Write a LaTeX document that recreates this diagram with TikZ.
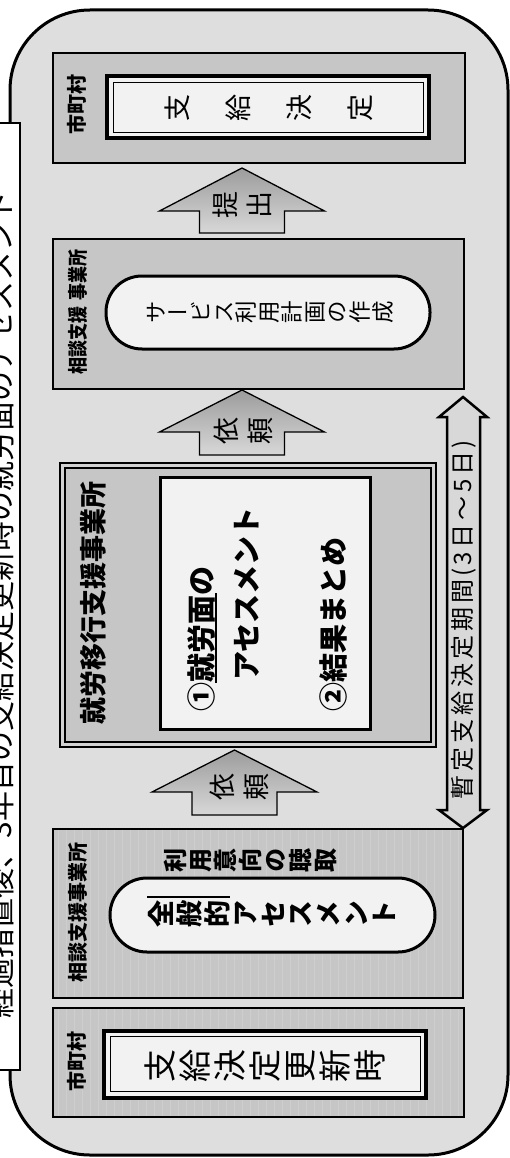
\documentclass[tikz,border=0pt]{standalone}
\usepackage{fontspec}
\setmainfont{Noto Sans CJK JP}
\newfontfamily\jpv[RawFeature=+vert]{Noto Sans CJK JP}
\definecolor{bgout}{HTML}{DEDEDE}
\definecolor{boxgray}{HTML}{C6C6C6}
\definecolor{stripegray}{HTML}{CECECE}
\definecolor{paper}{HTML}{F2F2F2}
\definecolor{periodfill}{HTML}{D8D8D8}
\definecolor{shuroedge}{HTML}{D2D2D2}
\definecolor{arrowdark}{HTML}{9C9C9C}
\definecolor{arrowlight}{HTML}{D8D8D8}
\newcommand\ks{\kern4pt}
\begin{document}
\begin{tikzpicture}[x=1pt,y=-1pt,
  lanebox/.style={draw=black, line width=2pt, fill=boxgray, inner sep=0pt},
  paperbox/.style={draw=black, line width=4pt, fill=paper, inner sep=0pt},
  innerline/.style={draw=black, line width=1pt, inner sep=0pt},
  capsule/.style={draw=black, line width=3pt, fill=paper, rounded corners=36pt, inner sep=0pt},
  lbl/.style={rotate=90, inner sep=0pt, font=\bfseries\fontsize{20}{20}\selectfont},
  tate/.style={rotate=90, align=center, inner sep=0pt},
  yoko/.style={rotate=90, anchor=west, inner sep=0pt, font=\bfseries\fontsize{29}{29}\selectfont},
  blockarrow/.style={draw=black, line width=1.3pt, top color=arrowdark, bottom color=arrowlight},
  marker/.style={line width=1.2pt},
  stripe/.style={draw=stripegray, line width=0.8pt},
]
\useasboundingbox (0,0) rectangle (510,1158);
% outer frame
\node[draw=black, line width=3pt, fill=bgout, rounded corners=80pt, minimum width=498pt, minimum height=1145pt, inner sep=0pt] (frame) at (259,582.5) {};
% title
\node[draw=black, line width=2pt, fill=white, minimum width=40pt, minimum height=947pt, inner sep=0pt] (titlebox) at (0,596.5) {};
\node[rotate=90, inner sep=0pt, font=\fontsize{30}{30}\selectfont] (title) at (0,605) {経過措置後、3年目の支給決定更新時の就労面のアセスメント};
% top: municipality decision
\node[lanebox, minimum width=412pt, minimum height=110pt] (city2) at (259,108) {};
\node[lbl] (city2lbl) at (77,105) {市町村};
\node[paperbox, minimum width=322pt, minimum height=62pt] (kettei) at (268,107.5) {};
\node[innerline, minimum width=310pt, minimum height=50pt] (ketteiin) at (268,107.5) {};
\node[tate, font=\jpv\fontsize{27}{61}\selectfont] (ketteitxt) at (268.5,108) {支\\給\\決\\定};
% arrow submit
\draw[blockarrow] (242,168) -- (324.5,211) -- (284.5,211) -- (284.5,233) -- (199.5,233) -- (199.5,211) -- (159.5,211) -- cycle;
\node[tate, font=\jpv\fontsize{27}{34}\selectfont] (teishutsu) at (242,205) {提\\出};
% plan box
\node[lanebox, minimum width=411pt, minimum height=150pt] (plan) at (258.5,314) {};
\node[lbl] (planlbl) at (78,312) {\scalebox{0.85}[1]{相談支援\hspace{8pt}事業所}};
\node[capsule, minimum width=324pt, minimum height=73pt] (plancap) at (268,312.5) {};
\node[tate, font=\jpv\fontsize{22.5}{22.7}\selectfont] (plantxt) at (270,312) {サ\\ー\\ビ\\ス\\利\\用\\計\\画\\の\\作\\成};
% arrow request 2
\draw[blockarrow] (242,390) -- (324.5,432) -- (284.5,432) -- (284.5,455) -- (199.5,455) -- (199.5,432) -- (159.5,432) -- cycle;
\node[tate, font=\jpv\fontsize{27}{34}\selectfont] (irai2) at (243,431) {依\\頼};
% period arrow
\draw[draw=black, line width=2.5pt, fill=periodfill, line join=miter] (463,397) -- (487,417) -- (480,417) -- (480,810) -- (487,810) -- (463,828) -- (439,810) -- (447,810) -- (447,417) -- (439,417) -- cycle;
\node[rotate=90, inner sep=0pt, font=\fontsize{24}{24}\selectfont] (period) at (463.5,620) {暫\ks 定\ks 支\ks 給\ks 決\ks 定\ks 期\ks 間\kern3pt(\kern3pt 3\ks 日\ks ～\ks 5\ks 日\kern3pt)};
% employment transition support office
\node[draw=black, line width=2pt, fill=shuroedge, minimum width=376pt, minimum height=284pt, inner sep=0pt] (shuro) at (248,605) {};
\node[draw=black, line width=1.2pt, fill=boxgray, minimum width=366pt, minimum height=274pt, inner sep=0pt] (shuroin) at (248,605) {};
\node[lbl, font=\bfseries\fontsize{27}{27}\selectfont] (shurolbl) at (93,603) {就労移行支援事業所};
\node[draw=black, line width=3pt, fill=paper, minimum width=210pt, minimum height=252pt, inner sep=0pt] (shuropaper) at (265,603) {};
\node[yoko] (s1) at (202,712) {①就労面の};
\node[yoko] (s2) at (247,681) {アセスメント};
\node[yoko] (s3) at (333,712) {②結果まとめ};
\draw[marker] (216,683) -- (216,593);
% arrow request 1
\draw[blockarrow] (234.5,750) -- (317,792) -- (277,792) -- (277,815) -- (192,815) -- (192,792) -- (152,792) -- cycle;
\node[tate, font=\jpv\fontsize{27}{34}\selectfont] (irai1) at (239,787) {依\\頼};
% consultation support office
\node[lanebox, minimum width=410pt, minimum height=169pt] (sodan) at (258,913.5) {};
\begin{scope}
\clip (54.2,830.2) rectangle (461.8,996.8);
\foreach \i in {58,66,...,460} \draw[stripe] (\i,829) -- (\i,998);
\end{scope}
\node[lbl] (sodanlbl) at (78,912) {相談支援事業所};
\node[tate, font=\jpv\bfseries\fontsize{24}{25}\selectfont] (iko) at (250,860) {利\\用\\意\\向\\の\\聴\\取};
\node[capsule, rounded corners=37pt, minimum width=325pt, minimum height=74pt] (sodancap) at (272.5,915) {};
\node[tate, font=\jpv\bfseries\fontsize{27}{27.8}\selectfont] (sodantxt) at (272,914) {全\\般\\的\\ア\\セ\\ス\\メ\\ン\\ト};
\draw[marker] (147,897) -- (230,897);
% bottom: municipality renewal
\node[lanebox, minimum width=411pt, minimum height=109pt] (city1) at (258.5,1062.5) {};
\begin{scope}
\clip (54.2,1009.2) rectangle (462.8,1115.8);
\foreach \i in {58,66,...,460} \draw[stripe] (\i,1008) -- (\i,1117);
\end{scope}
\node[lbl] (city1lbl) at (77,1061) {市町村};
\node[paperbox, minimum width=322pt, minimum height=67pt] (koshin) at (265,1064) {};
\node[innerline, minimum width=310pt, minimum height=55pt] (koshinin) at (265,1064) {};
\node[tate, font=\jpv\fontsize{33}{35}\selectfont] (koshintxt) at (265,1066) {支\\給\\決\\定\\更\\新\\時};
\end{tikzpicture}
\end{document}
